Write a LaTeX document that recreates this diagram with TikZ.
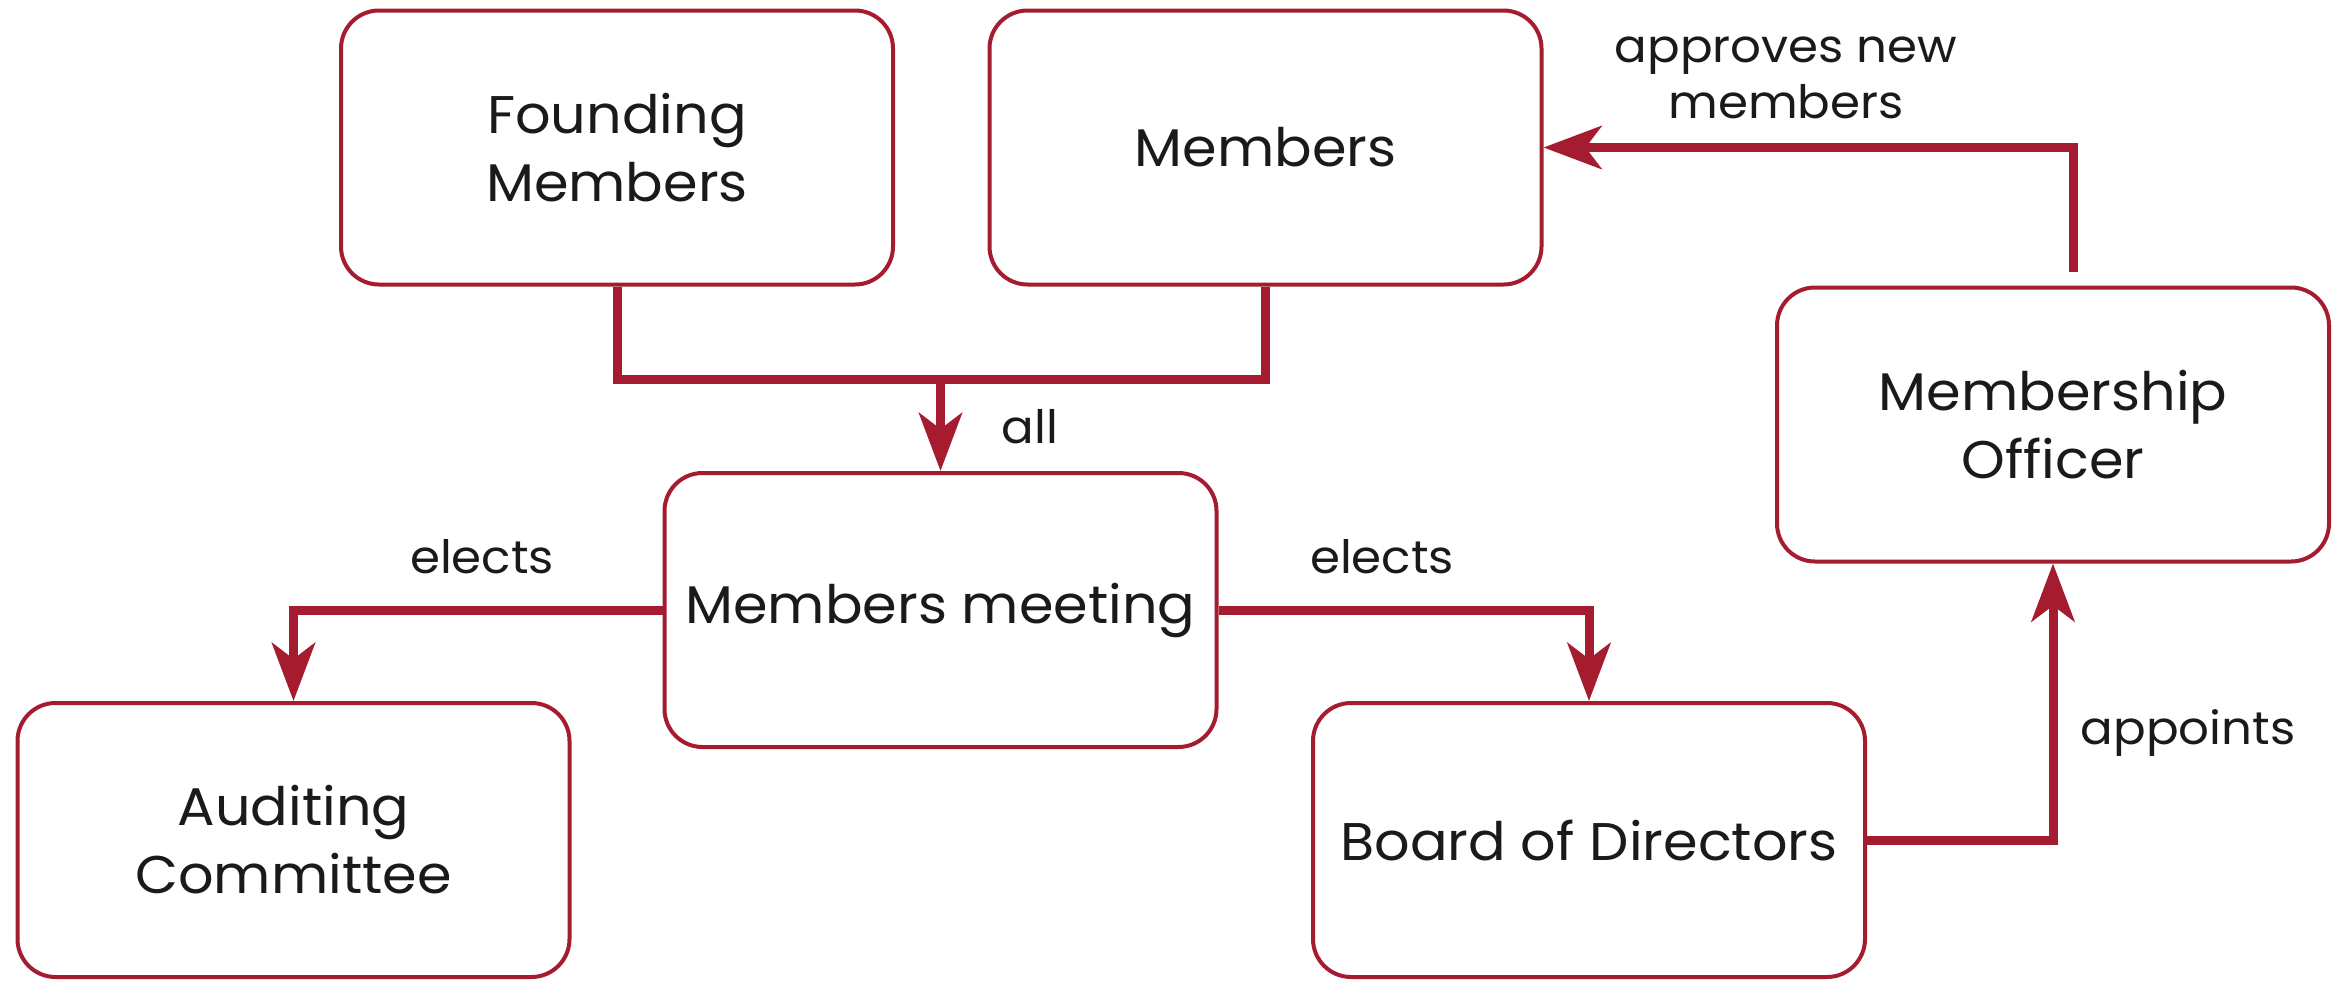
\documentclass[tikz,border=0pt]{standalone}
\usepackage{fontspec}
\setmainfont{Poppins}[FakeStretch=1.05]
\usetikzlibrary{arrows.meta}
\definecolor{crim}{HTML}{A51C30}
\definecolor{txt}{HTML}{1A1A1A}
\tikzset{
  box/.style={draw=crim, line width=4pt, rounded corners=38pt, fill=white,
    minimum width=552pt, minimum height=274pt, inner sep=0pt, align=center,
    font=\fontsize{53}{68}\selectfont, text=txt},
  conn/.style={draw=crim, line width=9pt},
  arr/.style={conn, -{Stealth[length=58pt,width=43pt,inset=16pt]}},
  lbl/.style={font=\fontsize{46}{56}\selectfont, text=txt, inner sep=0pt, align=center}
}
\begin{document}
\begin{tikzpicture}[x=1pt,y=-1pt]
\useasboundingbox (0,0) rectangle (2348,980);
\node[box] (fm) at (617,147.5) {Founding\\Members};
\node[box] (m) at (1265.5,147.5) {Members};
\node[box] (mo) at (2053,424.5) {Membership\\Officer};
\node[box] (mm) at (940.5,610) {Members meeting};
\node[box] (ac) at (293.5,840) {Auditing\\Committee};
\node[box] (bd) at (1589,840) {Board of Directors};
\coordinate (mrg) at (940.5,379);
\coordinate (mostart) at (2073,272);
\draw[conn] (fm.south) |- (mrg) -| (m.south);
\draw[arr] (mrg) -- (mm.north);
\draw[arr] (mm.west) -| (ac.north);
\draw[arr] (mm.east) -| (bd.north);
\draw[arr] (bd.east) -| (mo.south);
\draw[arr] (mostart) |- (m.east);
\node[lbl, anchor=base] (lall) at (1030,443) {all};
\node[lbl, anchor=base] (lel1) at (482,573) {elects};
\node[lbl, anchor=base] (lel2) at (1382,573) {elects};
\node[lbl, anchor=base] (lapp) at (2188,744) {appoints};
\node[lbl, anchor=base] (lnew) at (1786,118) {approves new\\members};
\end{tikzpicture}
\end{document}
